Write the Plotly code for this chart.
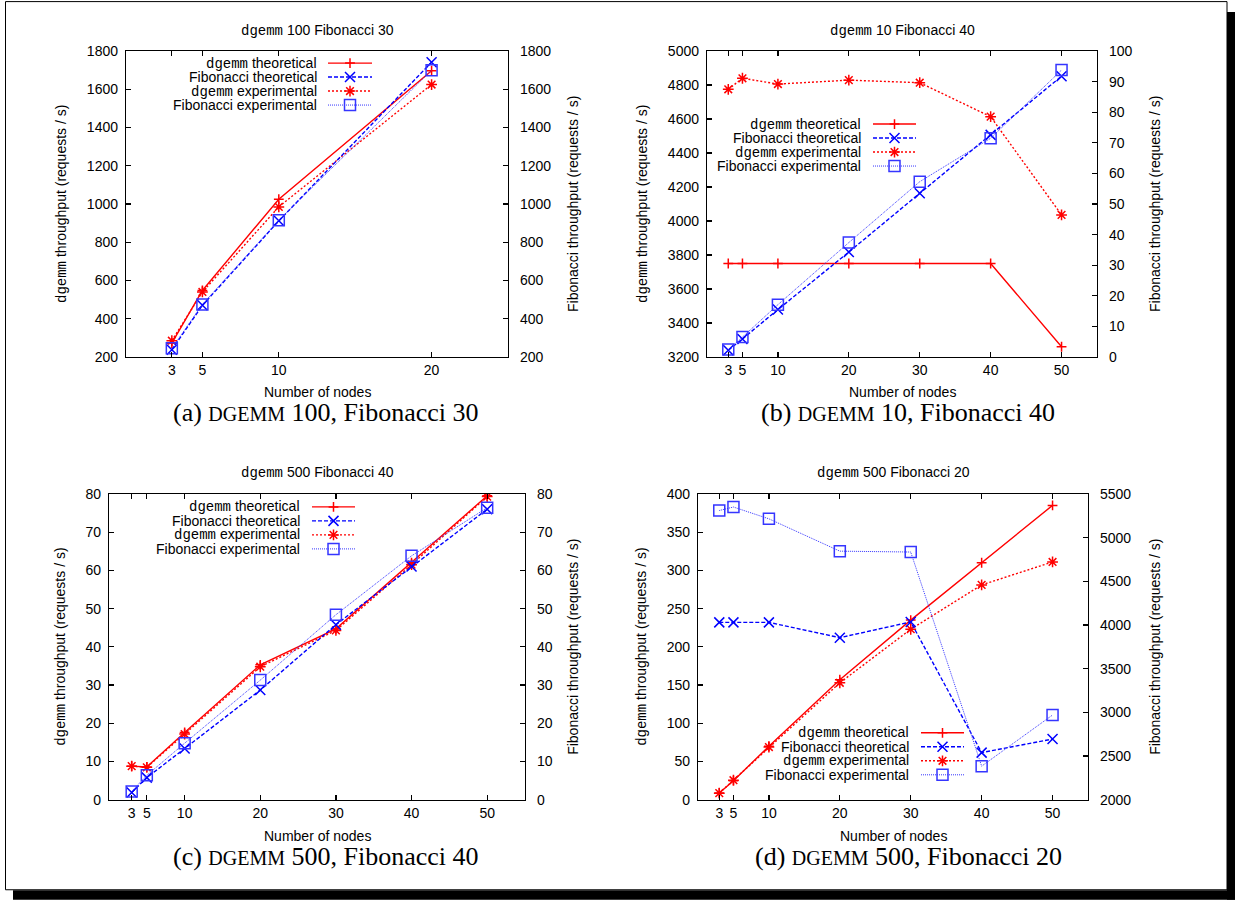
import plotly.graph_objects as go

W, H = 1235, 900

# ---------------- data ----------------
nodes_a = [3, 5, 10, 20]
nodes = [3, 5, 10, 20, 30, 40, 50]

a_dgemm_theo = [272, 548, 1025, 1697]
a_fib_theo = [238, 470, 912, 1742]
a_dgemm_exp = [285, 540, 985, 1625]
a_fib_exp = [245, 475, 915, 1700]

b_dgemm_theo = [3750, 3750, 3750, 3750, 3750, 3750, 3260]
b_fib_theo = [2.2, 5.9, 15.5, 34.3, 53.5, 72.6, 91.8]
b_dgemm_exp = [4775, 4840, 4806, 4829, 4814, 4614, 4036]
b_fib_exp = [2.4, 6.5, 17.1, 37.4, 57.3, 71.5, 93.8]

c_dgemm_theo = [8.8, 8.6, 17.6, 35.3, 44.7, 62.0, 79.5]
c_fib_theo = [1.9, 5.8, 13.4, 28.7, 45.8, 61.0, 76.0]
c_dgemm_exp = [8.8, 8.5, 17.2, 34.8, 44.3, 61.5, 79.3]
c_fib_exp = [2.2, 6.4, 14.8, 31.3, 48.4, 63.8, 76.4]

d_dgemm_theo = [9, 25, 70, 157, 235, 310, 385]
d_fib_theo = [4030, 4030, 4030, 3855, 4035, 2540, 2695]
d_dgemm_exp = [8.7, 25.6, 69, 153, 223, 281, 311]
d_fib_exp = [5310, 5350, 5215, 4845, 4835, 2385, 2970]

MONO = "<span style=\"font-family:Liberation Mono\">dgemm</span>"
series_labels = [MONO + " theoretical", "Fibonacci theoretical",
                 MONO + " experimental", "Fibonacci experimental"]
panel_titles = [MONO + " 100 Fibonacci 30", MONO + " 10 Fibonacci 40",
                MONO + " 500 Fibonacci 40", MONO + " 500 Fibonacci 20"]
caption_letters = ["(a)", "(b)", "(c)", "(d)"]
caption_rest = [" 100, Fibonacci 30", " 10, Fibonacci 40",
                " 500, Fibonacci 40", " 500, Fibonacci 20"]
left_title = MONO + " throughput (requests / s)"
right_title = "Fibonacci throughput (requests / s)"
x_title = "Number of nodes"

# ---------------- styles ----------------
styles = [
    dict(color="#ff0000", dash="solid", width=1.4, symbol="cross-thin-open", size=7),
    dict(color="#0000ff", dash="4px,2px", width=1.4, symbol="x-thin-open", size=10),
    dict(color="#ff0000", dash="2px,2px", width=1.4, symbol="asterisk-open", size=9),
    dict(color="#3535ff", dash="1px,1px", width=1.0, symbol="square-open", size=11),
]

SANS = "Liberation Sans"
FS = 14
LFS = 14

panels = [
    dict(box=(126, 51, 508, 357), xr=[0, 25], xt=nodes_a,
         yl=[200, 1800], dl=200, yr=[200, 1800], dr=200,
         data=[(nodes_a, a_dgemm_theo), (nodes_a, a_fib_theo), (nodes_a, a_dgemm_exp), (nodes_a, a_fib_exp)],
         ltx=61, rtx=573, capx=326, ty=30, xty=392, capy=413,
         rows=[63, 77, 91, 105], txr=319, samp=(328, 372)),
    dict(box=(707, 51, 1097, 357), xr=[0, 55], xt=nodes,
         yl=[3200, 5000], dl=200, yr=[0, 100], dr=10,
         data=[(nodes, b_dgemm_theo), (nodes, b_fib_theo), (nodes, b_dgemm_exp), (nodes, b_fib_exp)],
         ltx=642, rtx=1155, capx=908, ty=30, xty=392, capy=413,
         rows=[124, 138, 152, 166], txr=863, samp=(873, 916)),
    dict(box=(109, 494, 525, 800), xr=[0, 55], xt=nodes,
         yl=[0, 80], dl=10, yr=[0, 80], dr=10,
         data=[(nodes, c_dgemm_theo), (nodes, c_fib_theo), (nodes, c_dgemm_exp), (nodes, c_fib_exp)],
         ltx=61, rtx=573, capx=326, ty=473, xty=836, capy=857,
         rows=[507, 521, 535, 549], txr=302, samp=(312, 355)),
    dict(box=(698, 494, 1088, 800), xr=[0, 55], xt=nodes,
         yl=[0, 400], dl=50, yr=[2000, 5500], dr=500,
         data=[(nodes, d_dgemm_theo), (nodes, d_fib_theo), (nodes, d_dgemm_exp), (nodes, d_fib_exp)],
         ltx=642, rtx=1155, capx=908, ty=473, xty=836, capy=857,
         rows=[733, 747, 761, 775], txr=911, samp=(921, 964)),
]

# the photographed page comes out vertically mapped as y' = VS*y + VO; pre-compensate
VS, VO = 0.9826, 7.9


def px(x):
    return x / W


def py(y):
    return 1 - ((y - VO) / VS) / H


def ax_name(kind, i):
    return kind if i == 1 else f"{kind}{i}"


def ax_key(kind, i):
    return kind + "axis" if i == 1 else f"{kind}axis{i}"


fig = go.Figure()
layout = {}
annotations = []

axis_common = dict(showline=True, linecolor="black", linewidth=1.2,
                   ticks="inside", ticklen=5, tickwidth=1.2, tickcolor="black",
                   showgrid=False, zeroline=False,
                   tickfont=dict(family=SANS, size=FS, color="black"))

for k, p in enumerate(panels):
    xi = k + 1
    yli = 2 * k + 1
    yri = 2 * k + 2
    x0, y0, x1, y1 = p["box"]
    xn, yln, yrn = ax_name("x", xi), ax_name("y", yli), ax_name("y", yri)

    layout[ax_key("x", xi)] = dict(axis_common, domain=[px(x0), px(x1)], range=p["xr"],
                                   tickmode="array", tickvals=p["xt"], mirror="ticks",
                                   anchor=yln, ticklabelstandoff=0)
    layout[ax_key("y", yli)] = dict(axis_common, domain=[py(y1), py(y0)], range=p["yl"],
                                    dtick=p["dl"], tick0=p["yl"][0], anchor=xn,
                                    ticklabelstandoff=4)
    layout[ax_key("y", yri)] = dict(axis_common, range=p["yr"], dtick=p["dr"], tick0=p["yr"][0],
                                    overlaying=yln, side="right", anchor=xn,
                                    ticklabelstandoff=8)

    for s, (xs, ys) in enumerate(p["data"]):
        st = styles[s]
        fig.add_trace(go.Scatter(
            x=xs, y=ys, mode="lines+markers", xaxis=xn,
            yaxis=yln if s in (0, 2) else yrn,
            line=dict(color=st["color"], dash=st["dash"], width=st["width"]),
            marker=dict(symbol=st["symbol"], size=st["size"], color=st["color"],
                        line=dict(color=st["color"], width=1.5)),
            showlegend=False, hoverinfo="skip"))

    # legend (gnuplot style: text, then sample)
    lxi = 5 + k
    lyi = 9 + k
    lxn, lyn = ax_name("x", lxi), ax_name("y", lyi)
    sx0, sx1 = p["samp"]
    rows = p["rows"]
    layout[ax_key("x", lxi)] = dict(domain=[px(sx0), px(sx1)], range=[0, 1], visible=False,
                                    anchor=lyn, fixedrange=True)
    layout[ax_key("y", lyi)] = dict(domain=[py(rows[3] + 7), py(rows[0] - 7)], range=[3.5, -0.5],
                                    visible=False, anchor=lxn, fixedrange=True)
    for s in range(4):
        st = styles[s]
        fig.add_trace(go.Scatter(
            x=[0, 0.5, 1], y=[s, s, s], mode="lines+markers", xaxis=lxn, yaxis=lyn,
            line=dict(color=st["color"], dash=st["dash"], width=st["width"]),
            marker=dict(symbol=st["symbol"], size=st["size"], color=st["color"],
                        opacity=[0, 1, 0], line=dict(color=st["color"], width=1.5)),
            showlegend=False, hoverinfo="skip"))
        annotations.append(dict(text=series_labels[s], x=px(p["txr"]), y=py(rows[s]),
                                xref="paper", yref="paper", xanchor="right", yanchor="middle",
                                showarrow=False, font=dict(family=SANS, size=LFS, color="black")))

    cx = (x0 + x1) / 2
    cy = (y0 + y1) / 2
    annotations += [
        dict(text=panel_titles[k], x=px(cx), y=py(p["ty"]), xref="paper", yref="paper",
             xanchor="center", yanchor="middle", showarrow=False,
             font=dict(family=SANS, size=FS, color="black")),
        dict(text=x_title, x=px(cx), y=py(p["xty"]), xref="paper", yref="paper",
             xanchor="center", yanchor="middle", showarrow=False,
             font=dict(family=SANS, size=FS, color="black")),
        dict(text=left_title, x=px(p["ltx"]), y=py(cy), xref="paper", yref="paper",
             xanchor="center", yanchor="middle", textangle=-90, showarrow=False,
             font=dict(family=SANS, size=FS, color="black")),
        dict(text=right_title, x=px(p["rtx"]), y=py(cy), xref="paper", yref="paper",
             xanchor="center", yanchor="middle", textangle=-90, showarrow=False,
             font=dict(family=SANS, size=FS, color="black")),
        dict(text=caption_letters[k] + " <span style=\"font-size:20px\">DGEMM</span>" + caption_rest[k],
             x=px(p["capx"]), y=py(p["capy"]), xref="paper", yref="paper",
             xanchor="center", yanchor="middle", showarrow=False,
             font=dict(family="Liberation Serif", size=26, color="black")),
    ]

shapes = [
    dict(type="rect", xref="paper", yref="paper", x0=px(5.5), x1=px(1227), y0=py(890), y1=py(1.5),
         line=dict(color="black", width=1), fillcolor="rgba(0,0,0,0)", layer="below"),
    dict(type="rect", xref="paper", yref="paper", x0=px(1227), x1=px(1235), y0=py(900), y1=py(12),
         line=dict(width=0), fillcolor="black", layer="above"),
    dict(type="rect", xref="paper", yref="paper", x0=px(13), x1=px(1235), y0=py(900), y1=py(890.5),
         line=dict(width=0), fillcolor="black", layer="above"),
]

fig.update_layout(width=W, height=H, margin=dict(l=0, r=0, t=0, b=0, pad=0),
                  paper_bgcolor="white", plot_bgcolor="rgba(0,0,0,0)",
                  showlegend=False, annotations=annotations, shapes=shapes, **layout)

post = ("document.documentElement.style.margin='0px';"
        "document.body.style.margin='0px';"
        "document.body.style.padding='0px';"
        "document.documentElement.style.overflow='hidden';"
        "document.body.style.overflow='hidden';"
        "var g=document.getElementsByClassName('plotly-graph-div')[0];"
        "g.style.position='fixed';g.style.left='0px';g.style.top='0px';")

fig.write_html("out.html", config={"displayModeBar": False, "staticPlot": True},
               post_script=post)
